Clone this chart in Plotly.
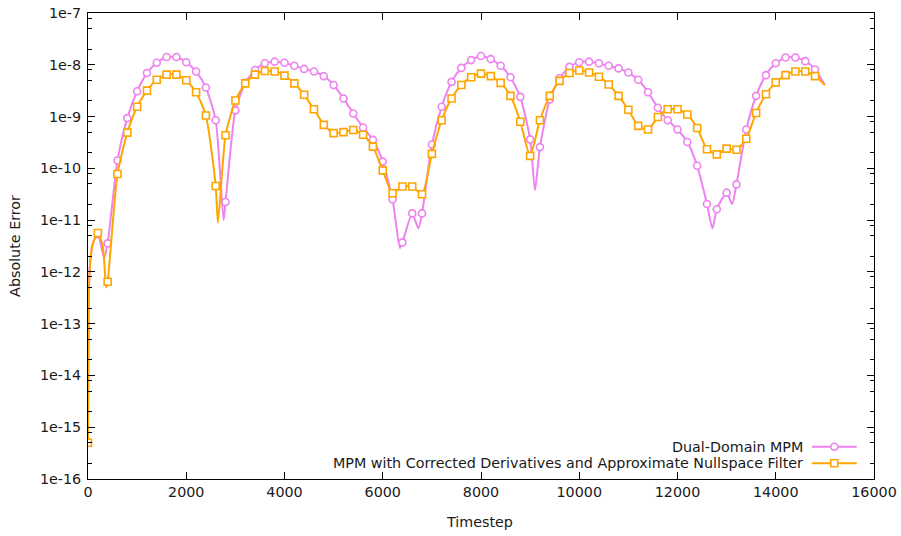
import plotly.graph_objects as go

# ---------------- data ----------------
# marker timesteps
marker_t = [0, 200, 400, 600, 800, 1000, 1200, 1400, 1600, 1800, 2000, 2200, 2400, 2600, 2800,
            3000, 3200, 3400, 3600, 3800, 4000, 4200, 4400, 4600, 4800, 5000, 5200, 5400, 5600,
            5800, 6000, 6200, 6400, 6600, 6800, 7000, 7200, 7400, 7600, 7800, 8000, 8200, 8400,
            8600, 8800, 9000, 9200, 9400, 9600, 9800, 10000, 10200, 10400, 10600, 10800, 11000,
            11200, 11400, 11600, 11800, 12000, 12200, 12400, 12600, 12800, 13000, 13200, 13400,
            13600, 13800, 14000, 14200, 14400, 14600, 14800]

# log10 of absolute error at the marker timesteps
dual_domain_log = [-15.3, -11.27, -11.45, -9.85, -9.03, -8.51, -8.16, -7.96, -7.85, -7.85, -7.95,
                   -8.13, -8.44, -9.07, -10.65, -8.88, -8.35, -8.10, -7.97, -7.94, -7.96, -8.02,
                   -8.08, -8.13, -8.22, -8.39, -8.65, -8.94, -9.21, -9.45, -9.87, -10.60, -11.43,
                   -10.87, -10.87, -9.54, -8.81, -8.33, -8.06, -7.91, -7.83, -7.89, -8.02, -8.24,
                   -8.62, -9.44, -9.59, -8.67, -8.26, -8.04, -7.95, -7.94, -7.97, -8.02, -8.07,
                   -8.15, -8.29, -8.53, -8.83, -9.07, -9.25, -9.49, -9.95, -10.69, -10.79, -10.47,
                   -10.31, -9.25, -8.60, -8.20, -7.97, -7.86, -7.86, -7.93, -8.09]

corrected_log = [-15.3, -11.25, -12.19, -10.11, -9.31, -8.81, -8.50, -8.29, -8.19, -8.19, -8.30,
                 -8.53, -8.98, -10.34, -9.36, -8.69, -8.36, -8.19, -8.12, -8.13, -8.21, -8.36,
                 -8.58, -8.86, -9.16, -9.32, -9.30, -9.26, -9.35, -9.58, -10.04, -10.48, -10.35,
                 -10.35, -10.50, -9.72, -9.07, -8.65, -8.39, -8.24, -8.17, -8.22, -8.35, -8.60,
                 -9.10, -9.76, -9.07, -8.60, -8.31, -8.16, -8.11, -8.15, -8.23, -8.38, -8.60,
                 -8.87, -9.18, -9.25, -9.01, -8.86, -8.86, -8.96, -9.22, -9.63, -9.73, -9.62,
                 -9.64, -9.43, -8.93, -8.57, -8.34, -8.20, -8.13, -8.13, -8.22]

# extra line-only points (between markers: sharp dips, start-up and end)
dual_domain_extra_t = [20, 50, 100, 330, 2760, 6350, 6725, 9100, 12710, 13110, 15000]
dual_domain_extra_log = [-12.3, -11.75, -11.45, -11.73, -11.0, -11.54, -11.16, -10.42, -11.16, -10.69, -8.39]

corrected_extra_t = [20, 50, 100, 300, 370, 2645, 15000]
corrected_extra_log = [-12.3, -11.75, -11.45, -11.5, -12.3, -11.05, -8.39]

series_names = ["Dual-Domain MPM",
                "MPM with Corrected Derivatives and Approximate Nullspace Filter"]

y_tick_exps = [-7, -8, -9, -10, -11, -12, -13, -14, -15, -16]
y_tick_labels = ["1e-7", "1e-8", "1e-9", "1e-10", "1e-11", "1e-12", "1e-13", "1e-14", "1e-15", "1e-16"]
x_tick_vals = [0, 2000, 4000, 6000, 8000, 10000, 12000, 14000, 16000]
x_tick_labels = ["0", "2000", "4000", "6000", "8000", "10000", "12000", "14000", "16000"]

# ---------------- build ----------------
VIOLET = "#ee82ee"
ORANGE = "#ffa500"
FONT = "DejaVu Sans"
FS = 14.3
TXT = "#1a1a1a"


def merged(t_a, v_a, t_b, v_b):
    pts = sorted(zip(list(t_a) + list(t_b), list(v_a) + list(v_b)))
    return [p[0] for p in pts], [10 ** p[1] for p in pts]


fig = go.Figure()

for name, col, sym, mt, mv, et, ev in [
    (series_names[0], VIOLET, "circle", marker_t, dual_domain_log, dual_domain_extra_t, dual_domain_extra_log),
    (series_names[1], ORANGE, "square", marker_t, corrected_log, corrected_extra_t, corrected_extra_log),
]:
    lx, ly = merged(mt, mv, et, ev)
    fig.add_trace(go.Scatter(x=lx, y=ly, mode="lines", line=dict(color=col, width=2, shape="spline", smoothing=0.6),
                             showlegend=False, hoverinfo="skip"))
    fig.add_trace(go.Scatter(x=mt, y=[10 ** v for v in mv], mode="markers", name=name,
                             marker=dict(symbol=sym, size=7, color="white",
                                         line=dict(color=col, width=1.6)),
                             showlegend=False))

minor_vals = []
for e in range(-16, -7):
    for m in (2, 5, 8):
        minor_vals.append(m * 10 ** e)

axis_common = dict(showline=True, linecolor="black", linewidth=1, mirror="ticks",
                   ticks="inside", tickcolor="black", showgrid=False, zeroline=False,
                   automargin=False,
                   tickfont=dict(family=FONT, size=FS, color=TXT))

fig.update_xaxes(range=[0, 16000], tickvals=x_tick_vals, ticktext=x_tick_labels, ticklen=7,
                 **axis_common)
fig.update_yaxes(type="log", range=[-16, -7], tickvals=[10 ** e for e in y_tick_exps],
                 ticktext=y_tick_labels, ticklen=7, ticklabelstandoff=3,
                 minor=dict(tickvals=minor_vals, ticks="inside", ticklen=4, tickcolor="black"),
                 **axis_common)

# custom legend (text on the left, sample on the right, as in the reference)
legend_rows = [(0.0693, VIOLET, "circle"), (0.0337, ORANGE, "rect")]
annotations = []
shapes = []
for (yp, col, shp), name in zip(legend_rows, series_names):
    annotations.append(dict(x=0.912, y=yp, xref="paper", yref="paper", text=name, showarrow=False,
                            xanchor="right", yanchor="middle",
                            font=dict(family=FONT, size=FS, color=TXT)))
    shapes.append(dict(type="line", xref="paper", yref="paper", x0=0.921, x1=0.978, y0=yp, y1=yp,
                       line=dict(color=col, width=2)))
    shapes.append(dict(type=shp, xref="paper", yref="paper", xsizemode="pixel", ysizemode="pixel",
                       xanchor=0.9495, yanchor=yp, x0=-3.5, x1=3.5, y0=-3.5, y1=3.5,
                       fillcolor="white", line=dict(color=col, width=1.6)))

annotations.append(dict(x=-0.093, y=0.5, xref="paper", yref="paper", text="Absolute Error",
                        showarrow=False, textangle=-90, xanchor="center", yanchor="middle",
                        font=dict(family=FONT, size=FS, color=TXT)))
annotations.append(dict(x=0.4987, y=-0.092, xref="paper", yref="paper", text="Timestep",
                        showarrow=False, xanchor="center", yanchor="middle",
                        font=dict(family=FONT, size=FS, color=TXT)))

fig.update_layout(width=901, height=536, margin=dict(l=88, r=27, t=13, b=57, autoexpand=False),
                  plot_bgcolor="white", paper_bgcolor="white", showlegend=False,
                  annotations=annotations, shapes=shapes,
                  font=dict(family=FONT, size=FS, color=TXT))

# remove the default 8px page margin so the figure sits at the window's corner
fig.write_html("out.html", config={"displayModeBar": False},
               post_script="document.body.style.margin='0';document.body.style.overflow='hidden';")
